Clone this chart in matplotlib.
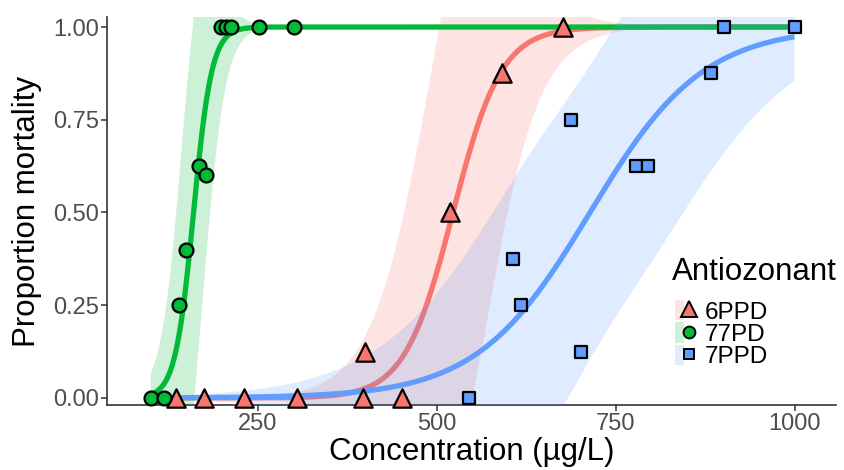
import numpy as np
import matplotlib
matplotlib.use('Agg')
import matplotlib.pyplot as plt
from matplotlib.patches import Patch
from matplotlib.lines import Line2D
from matplotlib.legend_handler import HandlerTuple

plt.rcParams['font.family'] = ['Liberation Sans', 'DejaVu Sans']

# data (concentration in ug/L, proportion dead)
groups = ['6PPD', '77PD', '7PPD']
conc_6ppd = [135, 175, 230, 304, 397, 452, 400, 518, 591, 676]
mort_6ppd = [0, 0, 0, 0, 0, 0, 0.125, 0.5, 0.875, 1.0]
conc_77pd = [100, 118, 140, 150, 167, 178, 198, 205, 213, 252, 300]
mort_77pd = [0, 0, 0.25, 0.4, 0.625, 0.6, 1, 1, 1, 1, 1]
conc_7ppd = [545, 606, 618, 688, 702, 778, 795, 883, 901, 1000]
mort_7ppd = [0, 0.375, 0.25, 0.75, 0.125, 0.625, 0.625, 0.875, 1, 1]

colors = {'6PPD': '#F8766D', '77PD': '#00BA38', '7PPD': '#619CFF'}
markers = {'6PPD': '^', '77PD': 'o', '7PPD': 's'}
msize = {'6PPD': 175, '77PD': 100, '7PPD': 72}

data = {'6PPD': (conc_6ppd, mort_6ppd),
        '77PD': (conc_77pd, mort_77pd),
        '7PPD': (conc_7ppd, mort_7ppd)}


# logistic glm (binomial, logit) by IRLS, returns coef and covariance
def glm_logit(x, y):
    X = np.column_stack([np.ones(len(x)), x])
    beta = np.zeros(2)
    for it in range(200):
        eta = X @ beta
        p = 1 / (1 + np.exp(-eta))
        w = p * (1 - p)
        z = eta + (y - p) / w
        XtW = X.T * w
        beta = np.linalg.solve(XtW @ X, XtW @ z)
    p = 1 / (1 + np.exp(-X @ beta))
    w = p * (1 - p)
    cov = np.linalg.inv((X.T * w) @ X)
    return beta, cov


all_x = np.concatenate([np.array(data[g][0], float) for g in groups])
xs = np.linspace(all_x.min(), all_x.max(), 400)

fig = plt.figure(figsize=(8.45, 4.7), dpi=100)
ax = fig.add_axes([107/845, 65/470, (836-107)/845, (453-65)/470])

zo = 1
for g in groups:
    x = np.array(data[g][0], float) / 100
    y = np.array(data[g][1], float)
    beta, cov = glm_logit(x, y)
    G = np.column_stack([np.ones(len(xs)), xs / 100])
    eta = G @ beta
    p = 1 / (1 + np.exp(-eta))
    se = np.sqrt(np.sum((G @ cov) * G, axis=1)) * p * (1 - p)
    ax.fill_between(xs, p - 1.96*se, p + 1.96*se, color=colors[g], alpha=0.2,
                    linewidth=0, zorder=zo)
    ax.plot(xs, p, color=colors[g], lw=3.8, zorder=zo + 1, solid_capstyle='butt')
    zo += 2

for g in groups:
    ax.scatter(data[g][0], data[g][1], marker=markers[g], s=msize[g],
               facecolor=colors[g], edgecolor='black', linewidths=1.6, zorder=20,
               clip_on=False)

ax.set_xlim(39, 1058)
ax.set_ylim(-0.019, 1.027)
ax.set_xticks([250, 500, 750, 1000])
ax.set_yticks([0, 0.25, 0.5, 0.75, 1.0])
ax.set_yticklabels(['0.00', '0.25', '0.50', '0.75', '1.00'])
for s in ['top', 'right']:
    ax.spines[s].set_visible(False)
for s in ['left', 'bottom']:
    ax.spines[s].set_color('#333333')
    ax.spines[s].set_linewidth(1.2)
ax.tick_params(colors='#333333', labelcolor='#4D4D4D', labelsize=17, length=4, width=1.1, pad=2)
ax.set_xlabel('Concentration (µg/L)', fontsize=22.5, labelpad=1)
ax.set_ylabel('Proportion mortality', fontsize=22.5, labelpad=8)

# legend: title as separate text, keys = ribbon fill + marker
fig.text(672/845, 1 - 272/470, 'Antiozonant', fontsize=22.5, ha='left', va='center')
handles = []
for g in groups:
    patch = Patch(facecolor=colors[g], alpha=0.2, edgecolor='none')
    mk = Line2D([], [], marker=markers[g], linestyle='none', markerfacecolor=colors[g],
                markeredgecolor='black', markeredgewidth=1.4,
                markersize={'6PPD': 11, '77PD': 8.5, '7PPD': 7.5}[g])
    handles.append((patch, mk))
leg = fig.legend(handles, groups, handler_map={tuple: HandlerTuple(ndivide=None, pad=0)},
                 loc='upper left', bbox_to_anchor=(663/845, 1 - 288/470), frameon=False,
                 fontsize=17.5, handlelength=0.75, handleheight=0.9, handletextpad=0.45,
                 labelspacing=-0.05, borderpad=0)

fig.savefig('out.png', dpi=100)
